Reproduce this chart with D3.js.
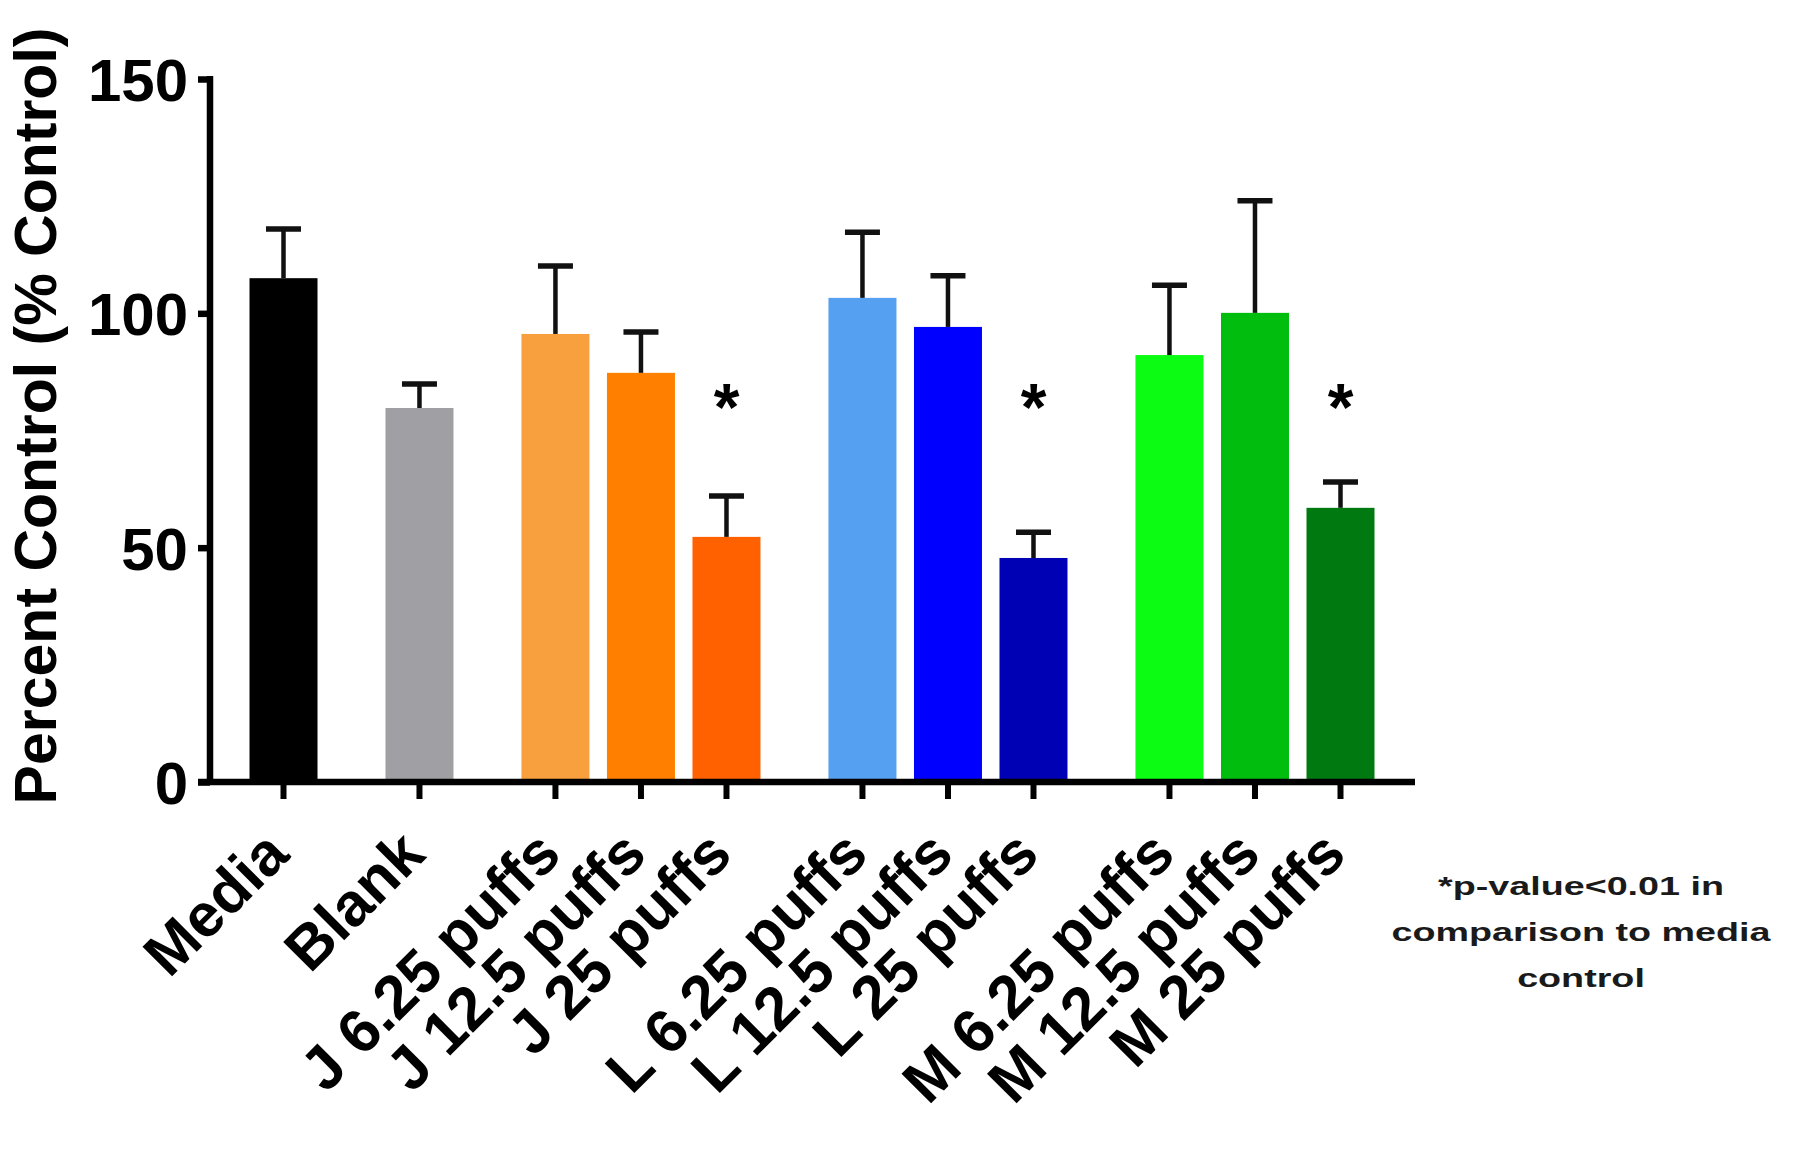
<!DOCTYPE html>
<html><head><meta charset="utf-8">
<script src="https://cdn.jsdelivr.net/npm/d3@7"></script>
<style>
body{margin:0;background:#fff}
svg text{font-family:"Liberation Sans",Arial,Helvetica,sans-serif;font-weight:bold;fill:#000}
</style>
</head><body>
<svg id="chart" width="1800" height="1149"></svg>
<script>
// ---- data ----
const categories = ["Media","Blank","J 6.25 puffs","J 12.5 puffs","J 25 puffs",
  "L 6.25 puffs","L 12.5 puffs","L 25 puffs","M 6.25 puffs","M 12.5 puffs","M 25 puffs"];
const groupIndex = [0,1,2,2,2,3,3,3,4,4,4];
const means  = [107.5,79.8,95.6,87.3,52.3,103.3,97.1,47.8,91.1,100.1,58.5];
const errors = [10.5,5.1,14.5,8.7,8.7,14.0,10.9,5.5,14.9,23.9,5.5];
const significant = [false,false,false,false,true,false,false,true,false,false,true];
const barColors = ["#000000","#a0a0a4","#f8a03e","#ff8000","#ff6000",
  "#56a0f2","#0000ff","#0000b4","#0cfc14","#00bd0e","#007a10"];
const yTicks = [0,50,100,150];
const yTitle = "Percent Control (% Control)";
const footnote = ["*p-value<0.01 in","comparison to media","control"];

// ---- layout ----
const W = 1800, H = 1149;
const svg = d3.select("#chart");
svg.append("rect").attr("width",W).attr("height",H).attr("fill","#fff");

const groupGap = 0.59;
const positions = categories.map((c,i)=> i + groupGap*groupIndex[i]);
const x = d3.scaleLinear().domain([0, d3.max(positions)]).range([283.5, 1340.5]);
const y = d3.scaleLinear().domain([0,150]).range([782, 79]);
const axisX = 210, barW = 68, capW = 35;

// bars
svg.append("g").selectAll("rect").data(categories).join("rect")
  .attr("x",(d,i)=>x(positions[i])-barW/2)
  .attr("y",(d,i)=>y(means[i]))
  .attr("width",barW)
  .attr("height",(d,i)=>y(0)-y(means[i]))
  .attr("fill",(d,i)=>barColors[i]);

// error bars
const eg = svg.append("g").attr("stroke","#111").attr("fill","none");
categories.forEach((c,i)=>{
  const cx = x(positions[i]);
  eg.append("line").attr("x1",cx).attr("x2",cx)
    .attr("y1",y(means[i])).attr("y2",y(means[i]+errors[i])).attr("stroke-width",4.5);
  eg.append("line").attr("x1",cx-capW/2).attr("x2",cx+capW/2)
    .attr("y1",y(means[i]+errors[i])).attr("y2",y(means[i]+errors[i])).attr("stroke-width",5.5);
});

// significance stars
svg.append("g").selectAll("text").data(categories.filter((c,i)=>significant[i])).join("text")
  .attr("x",d=>x(positions[categories.indexOf(d)]))
  .attr("y",430)
  .attr("text-anchor","middle")
  .style("font-size","66px")
  .text("*");

// y axis
const yAxis = d3.axisLeft(y).tickValues(yTicks).tickSize(12).tickSizeOuter(0).tickPadding(10);
const gy = svg.append("g").attr("transform",`translate(${axisX},0)`).call(yAxis);
gy.select(".domain").remove();
gy.selectAll(".tick line").attr("stroke","#000").attr("stroke-width",6.5);
gy.selectAll(".tick text").style("font-size","60px").attr("dy","0.36em")
  .style("font-family",'"Liberation Sans",Arial,sans-serif').style("font-weight","bold");
gy.append("line").attr("x1",0).attr("x2",0).attr("y1",y(150)-3).attr("y2",y(0))
  .attr("stroke","#000").attr("stroke-width",6.5);

// x axis
const gx = svg.append("g").attr("transform",`translate(0,${y(0)})`);
gx.append("line").attr("x1",axisX-12).attr("x2",1415).attr("y1",0).attr("y2",0)
  .attr("stroke","#000").attr("stroke-width",6.5);
gx.selectAll("line.t").data(positions).join("line").attr("class","t")
  .attr("x1",d=>x(d)).attr("x2",d=>x(d)).attr("y1",0).attr("y2",17)
  .attr("stroke","#000").attr("stroke-width",6);

// x labels
svg.append("g").selectAll("text").data(categories).join("text")
  .attr("transform",(d,i)=>`translate(${x(positions[i])+8},857) rotate(-45)`)
  .attr("text-anchor","end")
  .style("font-size","61px")
  .text(d=>d);

// y title
svg.append("text")
  .attr("transform","translate(56,416) rotate(-90)")
  .attr("text-anchor","middle")
  .style("font-size","59px")
  .text(yTitle);

// footnote
const fn = svg.append("g").attr("transform","translate(1581,0) scale(1.45,1)");
fn.selectAll("text").data(footnote).join("text")
  .attr("x",0).attr("y",(d,i)=>895+i*46)
  .attr("text-anchor","middle")
  .style("font-size","26px")
  .style("fill","#1a1a1a")
  .text(d=>d);
</script>
</body></html>
